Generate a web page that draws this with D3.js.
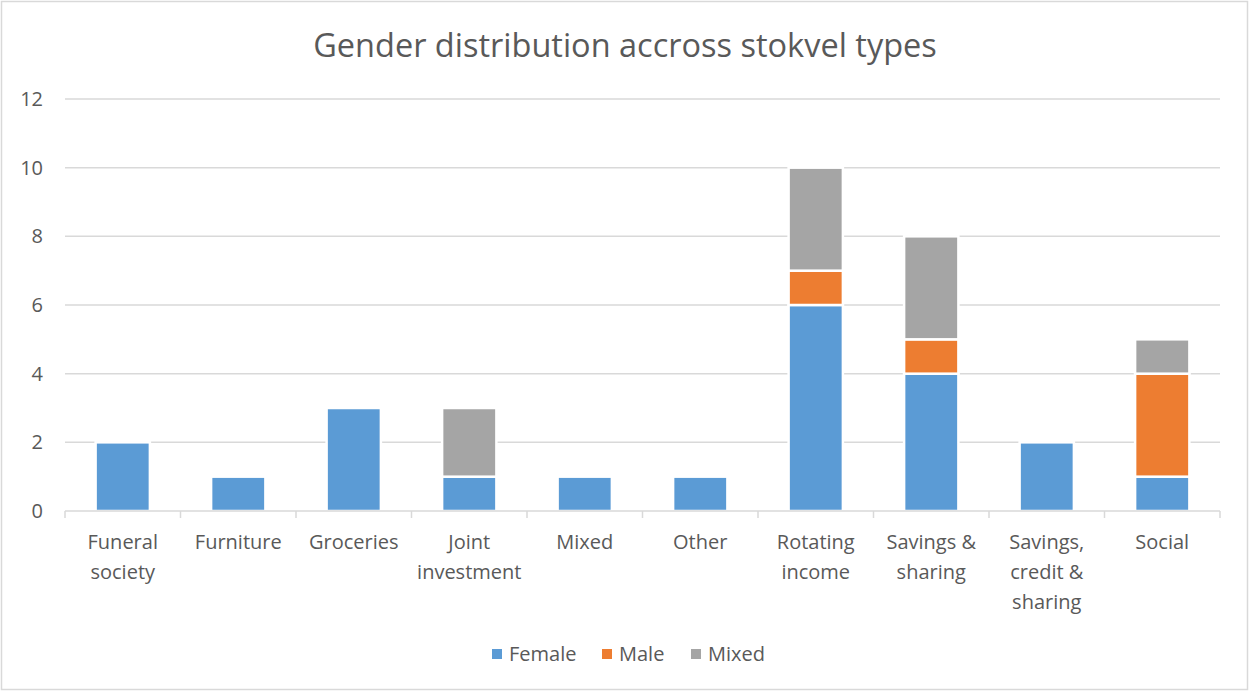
<!DOCTYPE html>
<html><head><meta charset="utf-8">
<script src="https://cdn.jsdelivr.net/npm/d3@7"></script>
<style>body{margin:0;background:#fff}svg{display:block}</style>
</head><body>
<svg id="c" width="1249" height="691"></svg>
<script>
const categories = ["Funeral society","Furniture","Groceries","Joint investment","Mixed","Other","Rotating income","Savings & sharing","Savings, credit & sharing","Social"];
const catLines = [["Funeral","society"],["Furniture"],["Groceries"],["Joint","investment"],["Mixed"],["Other"],["Rotating","income"],["Savings &","sharing"],["Savings,","credit &","sharing"],["Social"]];
const female = [2,1,3,1,1,1,6,4,2,1];
const male   = [0,0,0,0,0,0,1,1,0,3];
const mixed  = [0,0,0,2,0,0,3,3,0,1];
const seriesNames = ["Female","Male","Mixed"];
const colors = ["#5b9bd5","#ed7d31","#a5a5a5"];
const yTicks = [0,2,4,6,8,10,12];
const title = "Gender distribution accross stokvel types";

const font = "'Open Sans', 'Liberation Sans', sans-serif";
const svg = d3.select("#c");
svg.append("rect").attr("x",1.5).attr("y",1.5).attr("width",1246).attr("height",688)
  .attr("fill","#fff").attr("stroke","#d9d9d9").attr("stroke-width",1.5);

const L=65,R=1220,T=99,B=511;
const x = d3.scaleBand().domain(categories).range([L,R]).paddingInner(0.53).paddingOuter(0.265);
const y = d3.scaleLinear().domain([0,12]).range([B,T]);

svg.append("text").attr("x",625).attr("y",57).attr("text-anchor","middle")
  .attr("font-family",font).attr("font-size",32.5).attr("fill","#595959").text(title);

// grid
svg.append("g").selectAll("line").data(yTicks.filter(d=>d>0)).join("line")
  .attr("x1",L).attr("x2",R).attr("y1",d=>y(d)).attr("y2",d=>y(d))
  .attr("stroke","#d9d9d9").attr("stroke-width",1.5);
// y labels
svg.append("g").selectAll("text").data(yTicks).join("text")
  .attr("x",43).attr("y",d=>y(d)+7).attr("text-anchor","end")
  .attr("font-family",font).attr("font-size",20).attr("fill","#595959").text(d=>d);

// stacked
const data = categories.map((c,i)=>({cat:c,Female:female[i],Male:male[i],Mixed:mixed[i]}));
const stack = d3.stack().keys(seriesNames)(data);
stack.forEach((s,si)=>{
  svg.append("g").selectAll("rect").data(s.filter(d=>d[1]-d[0]>0)).join("rect")
    .attr("x",d=>x(d.data.cat)).attr("width",x.bandwidth())
    .attr("y",d=>y(d[1])).attr("height",d=>y(d[0])-y(d[1]))
    .attr("fill",colors[si]).attr("stroke","#fff").attr("stroke-width",2.5);
});

// x axis
const step = (R-L)/categories.length;
svg.append("line").attr("x1",L).attr("x2",R).attr("y1",B).attr("y2",B).attr("stroke","#d9d9d9").attr("stroke-width",1.5);
svg.append("g").selectAll("line").data(d3.range(categories.length+1)).join("line")
  .attr("x1",i=>L+i*step).attr("x2",i=>L+i*step).attr("y1",B).attr("y2",B+7)
  .attr("stroke","#d9d9d9").attr("stroke-width",1.5);
const xl = svg.append("g").selectAll("text").data(categories).join("text")
  .attr("text-anchor","middle").attr("font-family",font).attr("font-size",20).attr("fill","#595959");
xl.each(function(c,i){
  const t=d3.select(this);
  catLines[i].forEach((ln,j)=>{
    t.append("tspan").attr("x",x(c)+x.bandwidth()/2).attr("y",549+j*30).text(ln);
  });
});

// legend
const legX=[492,602,691];
seriesNames.forEach((n,i)=>{
  svg.append("rect").attr("x",legX[i]).attr("y",649).attr("width",10).attr("height",10).attr("fill",colors[i]);
  svg.append("text").attr("x",legX[i]+17).attr("y",661).attr("font-family",font).attr("font-size",20).attr("fill","#595959").text(n);
});
</script>
</body></html>
